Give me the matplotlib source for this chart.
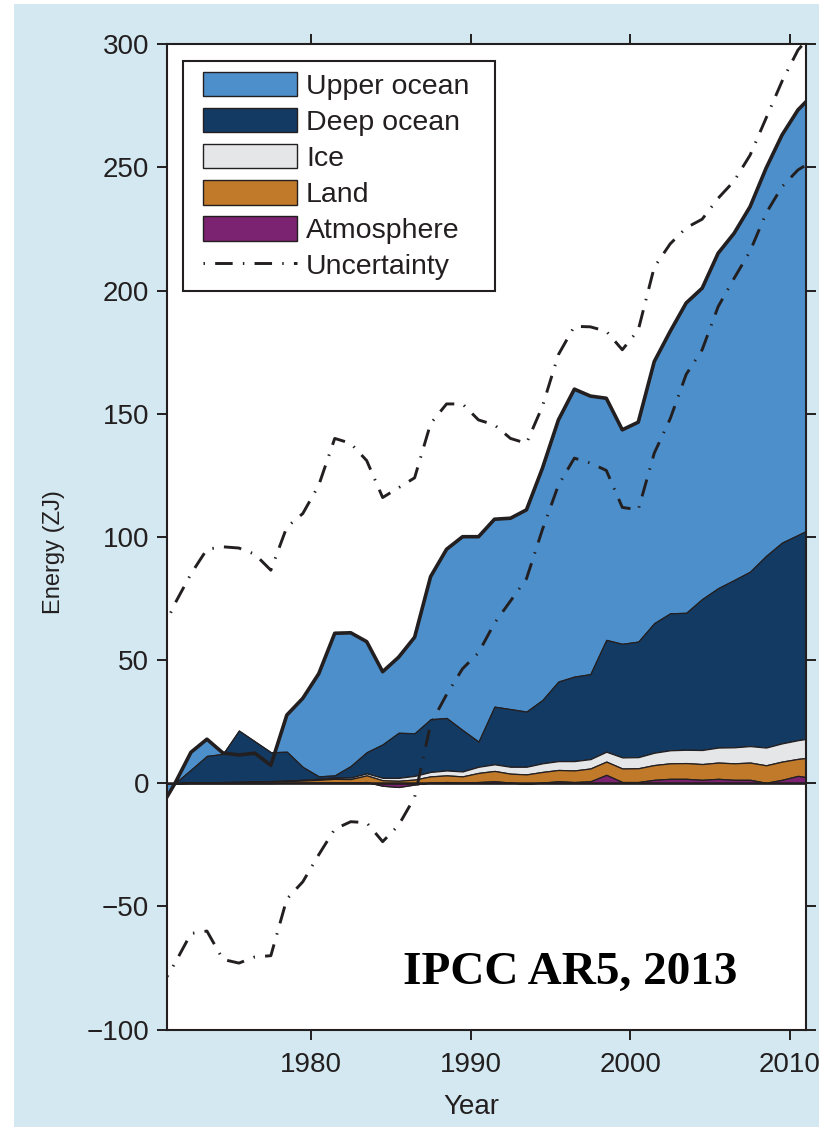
import numpy as np
import matplotlib
matplotlib.use('Agg')
import matplotlib.pyplot as plt
from matplotlib.patches import Patch, Rectangle
from matplotlib.lines import Line2D
from matplotlib.legend_handler import HandlerPatch, HandlerLine2D

# === Data (ZJ), mid-year values ===
years = np.arange(1970.5, 2012.0, 1.0)

atmosphere = [0, 0, 0.1, 0.1, 0.1, 0.1, 0.1, 0.1, 0.2, 0.2,
              0.3, 0.3, 0.3, 0.5, -1.0, -1.5, -0.5, 0.3, 0.5, 0.3,
              0.5, 0.8, 0.3, -0.2, 0.3, 0.8, 0.5, 0.8, 3.4, 0.5,
              0.5, 1.4, 1.8, 1.8, 1.4, 1.8, 1.4, 1.4, 0.2, 1.4,
              3.0, 2.0]
land = [0, 0, 0.1, 0.2, 0.3, 0.4, 0.5, 0.6, 0.7, 0.9,
        1.1, 1.5, 1.4, 2.7, 2.2, 2.5, 2.0, 2.5, 2.7, 2.5,
        3.7, 4.2, 3.6, 3.8, 4.3, 4.6, 4.7, 5.2, 5.4, 5.5,
        5.6, 6.0, 6.3, 6.4, 6.4, 6.6, 6.7, 7.0, 7.1, 7.4,
        6.9, 8.6]
ice = [0, 0, 0.1, 0.1, 0.1, 0.1, 0.1, 0.2, 0.2, 0.3,
       0.4, 0.5, 0.6, 0.8, 1.0, 1.2, 1.5, 1.8, 2.0, 2.0,
       2.5, 2.7, 2.8, 3.1, 3.5, 3.6, 3.8, 3.8, 4.0, 4.5,
       4.5, 5.0, 5.3, 5.4, 5.7, 6.1, 6.5, 6.7, 7.2, 7.4,
       7.6, 7.9]
deep_ocean = [0, 0, 5.2, 10.7, 11.4, 20.8, 16.3, 11.7, 11.7, 5.2,
              1.0, 0.9, 4.7, 8.6, 13.6, 18.3, 17.3, 21.4, 21.3, 16.8,
              10.2, 23.4, 23.4, 22.4, 25.7, 32.3, 34.3, 34.5, 45.4, 46.1,
              46.9, 52.6, 55.6, 55.6, 61.3, 64.7, 67.9, 70.8, 77.8, 81.5,
              83.3, 85.5]
upper_ocean = [-11, 0, 7.1, 6.8, 0.4, -9.9, -4.8, -5.3, 14.9, 27.9,
               41.7, 57.7, 54.1, 44.9, 29.5, 30.7, 39.0, 57.9, 68.5, 78.5,
               83.2, 76.1, 77.5, 81.9, 94.1, 106.2, 116.7, 112.9, 98.1, 86.9,
               89.1, 106.2, 114.5, 125.8, 126.2, 136.0, 140.8, 148.2, 157.4, 165.5,
               172.6, 176.0]

unc_high = [59, 73, 85, 95, 96, 95.5, 93, 86.5, 104, 109.5,
            121, 140, 138, 131, 116, 120, 124, 146, 154, 154,
            147.5, 145.5, 140, 138, 153, 174, 185.5, 185.3, 183.5, 176,
            184, 209.5, 219, 225.5, 229, 237.5, 244.5, 255, 270, 285,
            297.7, 305]
unc_low = [-84, -73, -61, -60, -71.5, -73, -70.5, -70, -47, -40,
           -29, -18.6, -15.6, -16, -23.7, -17, -5.7, 24, 36, 46.5,
           53, 65, 74, 83, 103, 121, 132, 130, 127, 112,
           111, 134, 148, 166, 176, 193.5, 205, 216, 231.4, 242.2,
           249, 253]

labels = ['Upper ocean', 'Deep ocean', 'Ice', 'Land', 'Atmosphere', 'Uncertainty']

# === Styles ===
c_upper = '#4d8fcb'
c_deep = '#133a63'
c_ice = '#e5e6e8'
c_land = '#c07a2a'
c_atm = '#7b2270'
dark = '#231f20'
bg = '#d3e8f0'

plt.rcParams['font.family'] = ['Liberation Sans', 'DejaVu Sans']

fig = plt.figure(figsize=(8.19, 11.27), dpi=100, facecolor='white')
fig.patches.append(Rectangle((14 / 819, 0), 1, 1 - 4 / 1127, transform=fig.transFigure,
                             facecolor=bg, edgecolor='none', zorder=-10))

ax = fig.add_axes([167 / 819, (1127 - 1029.6) / 1127, 639 / 819, (1029.6 - 44.3) / 1127])
ax.set_facecolor('white')

# stack
atm_top = np.array(atmosphere)
land_top = atm_top + np.array(land)
ice_top = land_top + np.array(ice)
deep_top = ice_top + np.array(deep_ocean)
total = deep_top + np.array(upper_ocean)

ekw = dict(edgecolor=dark, linewidth=0.9)
ax.fill_between(years, deep_top, total, facecolor=c_upper, **ekw)
ax.fill_between(years, ice_top, deep_top, facecolor=c_deep, **ekw)
ax.fill_between(years, land_top, ice_top, facecolor=c_ice, **ekw)
ax.fill_between(years, atm_top, land_top, facecolor=c_land, **ekw)
ax.fill_between(years, 0, atm_top, facecolor=c_atm, **ekw)
ax.axhline(0, color=dark, lw=1.8, zorder=3)
ax.plot(years, total, color=dark, lw=2.6, zorder=4)

dd = (0, (6, 3.5, 0.5, 3.5))
ax.plot(years, unc_high, color=dark, lw=2.1, linestyle=dd, zorder=5)
ax.plot(years, unc_low, color=dark, lw=2.1, linestyle=dd, zorder=5)

ax.set_xlim(1971, 2011)
ax.set_ylim(-100, 300)
ax.set_xticks([1980, 1990, 2000, 2010])
ax.set_yticks(np.arange(-100, 301, 50))
ax.set_yticklabels(['\u2212100', '\u221250', '0', '50', '100', '150', '200', '250', '300'])
ax.tick_params(direction='out', length=7, width=1.4, top=True, right=True,
               labelsize=20, colors=dark, pad=6)
ax.tick_params(axis='x', pad=9)
for s in ax.spines.values():
    s.set_linewidth(1.5)
    s.set_color(dark)

ax.set_xlabel('Year', fontsize=20, color=dark)
ax.set_ylabel('Energy (ZJ)', fontsize=17, color=dark)
ax.xaxis.set_label_coords((471 - 167) / 639, -(1094 - 1029.6) / 985.3)
ax.yaxis.set_label_coords(-(167 - 65) / 639, 1 - (552 - 44.3) / 985.3)

ax.text((570 - 167) / 639, 1 - (973 - 44.3) / 985.3, 'IPCC AR5, 2013', transform=ax.transAxes,
        ha='center', va='center', fontsize=34, fontweight='bold',
        family=['Liberation Serif', 'DejaVu Serif'], color='black')

handles = [Patch(facecolor=c, edgecolor=dark, linewidth=1) for c in [c_upper, c_deep, c_ice, c_land, c_atm]]
handles.append(Line2D([], [], color=dark, lw=2.1, linestyle=(9.5, (6, 3.5, 0.5, 3.5))))
leg = ax.legend(handles, labels, loc='upper left',
                bbox_to_anchor=(16 / 639, 1 - 17 / 985.3 - 0.3, 312 / 639, 0.3), mode='expand',
                borderaxespad=0, fontsize=20.5, handlelength=3.65, handleheight=0.95,
                handletextpad=0.3, labelspacing=0.28, borderpad=0.37, fancybox=False,
                framealpha=1, edgecolor=dark,
                handler_map={Patch: HandlerPatch(xpad=0.32), Line2D: HandlerLine2D(xpad=0.32)})
leg.get_frame().set_linewidth(1.5)
for t in leg.get_texts():
    t.set_color(dark)

fig.savefig('out.png', dpi=100, facecolor=fig.get_facecolor())
